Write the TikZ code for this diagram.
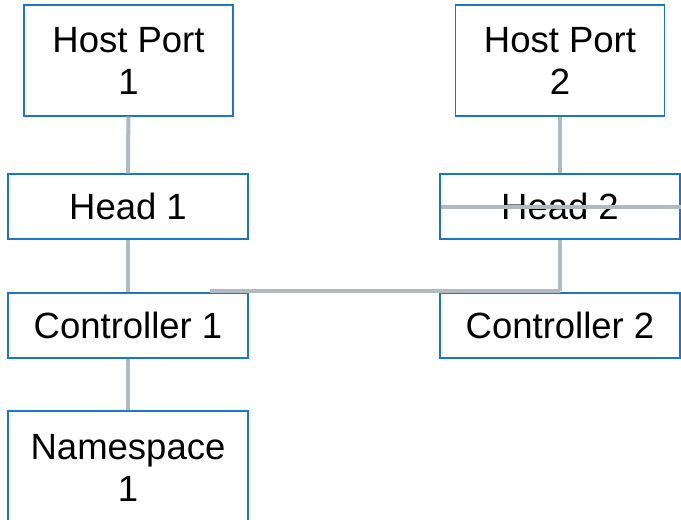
\documentclass[tikz,border=0pt]{standalone}
\usepackage{fontspec}
\setmainfont{Liberation Sans}
\usetikzlibrary{positioning,calc}

\definecolor{boxblue}{RGB}{28,117,200}
\definecolor{linkgray}{RGB}{178,186,191}

\tikzset{
  unit/.style={draw=boxblue, line width=1.4pt, fill=white, align=center,
    inner sep=0pt, font=\fontsize{36.5}{42}\selectfont},
  link/.style={draw=linkgray, line width=4pt},
}

\begin{document}
\begin{tikzpicture}[x=1pt,y=-1pt]
        \useasboundingbox (0,0) rectangle (681,520);

        % Left column
        \node[unit, minimum width=209pt, minimum height=111pt] (hp1) at (128.5,60.5) {Host Port\\1};
        \node[unit, minimum width=240pt, minimum height=65pt] (head1) at (128,206.5) {Head 1};
        \node[unit, minimum width=240pt, minimum height=65pt] (ctrl1) at (128,325.5) {Controller 1};
        \node[unit, minimum width=240pt, minimum height=114pt] (ns1) at (128,468) {Namespace\\1};

        % Right column
        \node[unit, minimum width=209pt, minimum height=111pt] (hp2) at (560,60.5) {Host Port\\2};
        \node[unit, minimum width=240pt, minimum height=65pt] (head2) at (560,206.5) {Head 2};
        \node[unit, minimum width=240pt, minimum height=65pt] (ctrl2) at (560,325.5) {Controller 2};

        % Links
        \draw[link] (hp1) -- (head1);
        \draw[link] (head1) -- (ctrl1);
        \draw[link] (ctrl1) -- (ns1);
        \draw[link] (hp2) -- (head2);
        \draw[link] (head2.south) -- ($(ctrl2.north)+(0,-1.5)$);
        \draw[link] ($(head2.west)+(2,0)$) -- ($(head2.east)+(1,0)$);
        \coordinate (busl) at ($(ctrl1.north west)+(203,-1.5)$);
        \draw[link] (busl) -- ($(ctrl2.north)+(0,-1.5)$);
    \end{tikzpicture}
\end{document}
